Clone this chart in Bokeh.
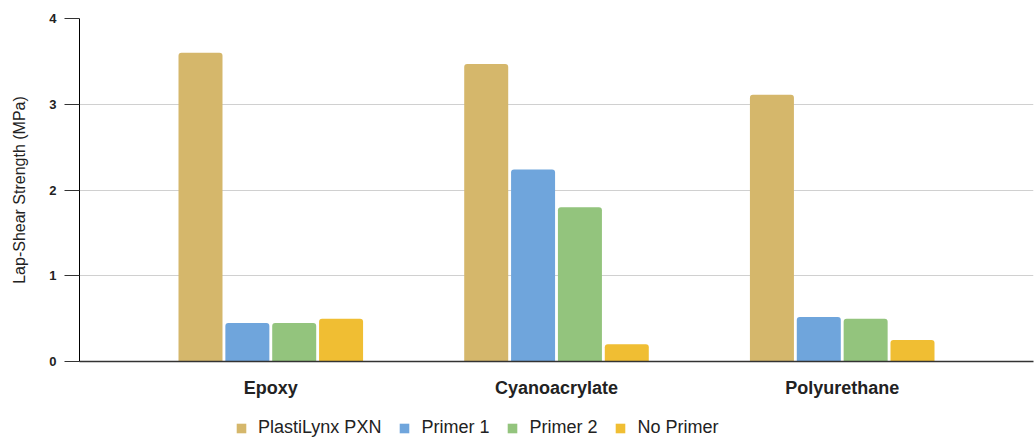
from bokeh.plotting import figure
from bokeh.layouts import column
from bokeh.models import ColumnDataSource, FactorRange, Range1d, Legend, LegendItem, FixedTicker
from bokeh.transform import dodge
from bokeh.embed import file_html
from bokeh.resources import INLINE

adhesives = ["Epoxy", "Cyanoacrylate", "Polyurethane"]
series_names = ["PlastiLynx PXN", "Primer 1", "Primer 2", "No Primer"]
pxn = [3.6, 3.47, 3.11]
primer1 = [0.45, 2.24, 0.52]
primer2 = [0.45, 1.80, 0.50]
no_primer = [0.50, 0.20, 0.25]
colors = ["#d5b76b", "#6fa5dc", "#93c47d", "#f0be33"]
y_ticks = [0, 1, 2, 3, 4]

source = ColumnDataSource(dict(adhesive=adhesives, pxn=pxn, p1=primer1, p2=primer2, np_=no_primer))

p = figure(x_range=FactorRange(*adhesives, range_padding=0.113),
           y_range=Range1d(0, 4),
           width=1034, height=400, output_backend="svg", toolbar_location=None,
           min_border_left=79, min_border_right=1, min_border_top=18,
           min_border_bottom=37)
p.outline_line_color = None
p.background_fill_color = "white"

offsets = [-0.246, -0.082, 0.082, 0.246]
cols = ["pxn", "p1", "p2", "np_"]
for col, off, c in zip(cols, offsets, colors):
    p.vbar(x=dodge("adhesive", off, range=p.x_range), top=col, width=0.154,
           source=source, fill_color=c, line_color=None, border_radius=(3, 3, 0, 0))

p.xgrid.grid_line_color = None
p.ygrid.grid_line_color = "#d0d0d0"
p.ygrid.grid_line_width = 1

p.yaxis.ticker = FixedTicker(ticks=y_ticks)
p.yaxis.axis_label = "Lap-Shear Strength (MPa)"
p.yaxis.axis_label_text_font = "Liberation Sans"
p.yaxis.axis_label_text_font_style = "normal"
p.yaxis.axis_label_text_font_size = "16px"
p.yaxis.axis_label_text_color = "#222222"
p.yaxis.axis_label_standoff = 18
p.yaxis.major_label_text_font = "Liberation Sans"
p.yaxis.major_label_text_font_style = "bold"
p.yaxis.major_label_text_font_size = "13px"
p.yaxis.major_label_text_color = "#222222"
p.yaxis.major_label_standoff = 8
p.yaxis.major_tick_out = 15
p.yaxis.major_tick_in = 0
p.yaxis.major_tick_line_color = "#333333"
p.yaxis.minor_tick_line_color = None
p.yaxis.axis_line_color = "#000000"

p.xaxis.major_label_text_font = "Liberation Sans"
p.xaxis.major_label_text_font_style = "bold"
p.xaxis.major_label_text_font_size = "18px"
p.xaxis.major_label_text_color = "#222222"
p.xaxis.major_label_standoff = 10
p.xaxis.major_tick_line_color = None
p.xaxis.minor_tick_line_color = None
p.xaxis.axis_line_color = "#333333"
p.xaxis.axis_line_width = 1.5

# legend strip
lg = figure(width=1030, height=38, output_backend="svg", toolbar_location=None,
            x_range=Range1d(0, 1), y_range=Range1d(0, 1),
            x_axis_location=None, y_axis_location=None,
            min_border_left=0, min_border_right=0, min_border_top=0, min_border_bottom=0)
lg.outline_line_color = None
lg.xgrid.grid_line_color = None
lg.ygrid.grid_line_color = None
items = []
for name, c in zip(series_names, colors):
    # zero-size proxy renderer; only its legend swatch is drawn
    r = lg.vbar(x=[0.5], top=[0.5], bottom=[0.5], width=0, fill_color=c, line_color=None)
    items.append(LegendItem(label=name, renderers=[r]))

legend = Legend(items=items, orientation="horizontal", location=(156, 0))
legend.label_text_font = "Liberation Sans"
legend.label_text_font_size = "18px"
legend.label_text_color = "#222222"
legend.glyph_width = 12
legend.glyph_height = 12
legend.label_standoff = 11
legend.spacing = 17
legend.border_line_color = None
legend.background_fill_alpha = 0
legend.padding = 0
legend.margin = 0
lg.add_layout(legend, "center")

layout = column(p, lg, spacing=0)
open("out.html", "w").write(file_html(layout, INLINE))
